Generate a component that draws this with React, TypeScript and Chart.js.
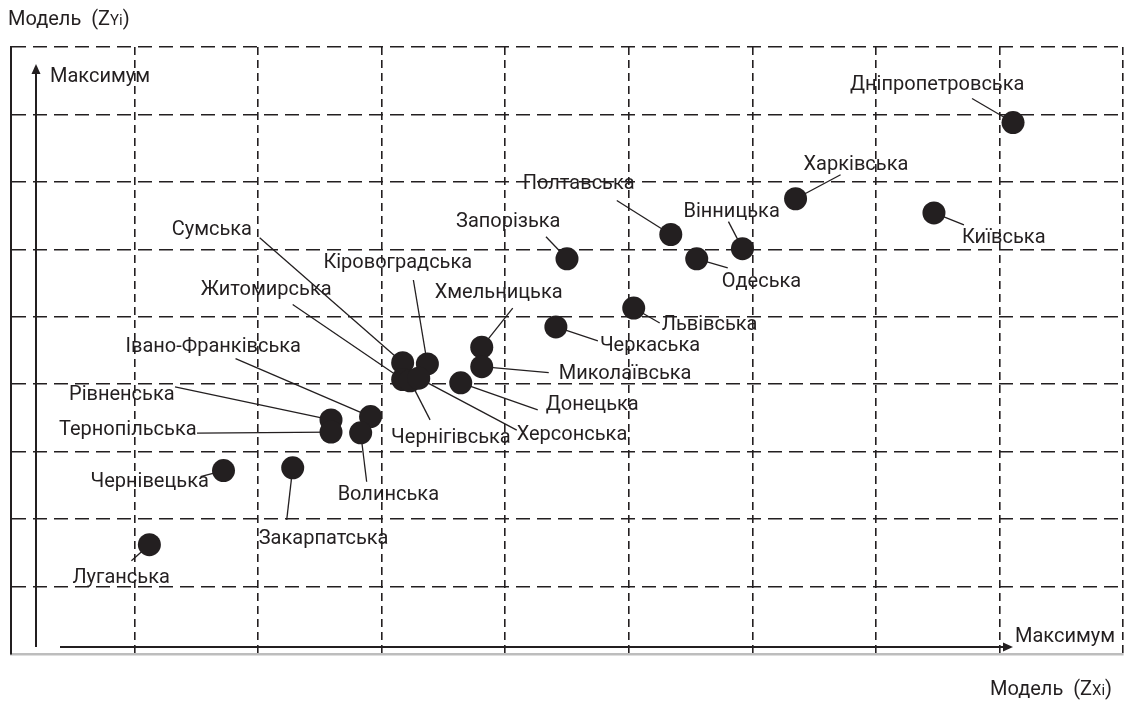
import React, { useEffect, useRef } from "react";
import { Chart, registerables } from "chart.js";

Chart.register(...registerables);

// Regions (categories)
const regions = [
  "Дніпропетровська",
  "Харківська",
  "Київська",
  "Полтавська",
  "Вінницька",
  "Одеська",
  "Запорізька",
  "Львівська",
  "Черкаська",
  "Хмельницька",
  "Миколаївська",
  "Сумська",
  "Кіровоградська",
  "Житомирська",
  "Чернігівська",
  "Херсонська",
  "Донецька",
  "Івано-Франківська",
  "Рівненська",
  "Тернопільська",
  "Волинська",
  "Чернівецька",
  "Закарпатська",
  "Луганська",
];

// Model values ZXi (horizontal) and ZYi (vertical), in grid units
const zx = [8.11, 6.35, 7.47, 5.34, 5.92, 5.55, 4.5, 5.04, 4.41, 3.81, 3.81, 3.17, 3.37, 3.17, 3.23, 3.3, 3.64, 2.91, 2.59, 2.59, 2.83, 1.72, 2.28, 1.12];
const zy = [7.88, 6.75, 6.54, 6.22, 6.01, 5.86, 5.86, 5.13, 4.85, 4.55, 4.26, 4.32, 4.3, 4.07, 4.05, 4.09, 4.02, 3.52, 3.47, 3.29, 3.28, 2.72, 2.76, 1.62];

// Axis texts
const yTitle = ["Модель  (Z", "Yi", ")"];
const xTitle = ["Модель  (Z", "Xi", ")"];
const axisMax = "Максимум";
const gridMin = 0;
const gridMax = 9;

// Annotation layout (pixel offsets from the point): leader end, label left/middle
const leaderEnd: [number, number][] = [
  [-41, -24], [45, -24], [30, 12], [-54, -34], [-14, -27], [31, 9], [-21, -22], [26, 15],
  [42, 14], [31, -39], [67, 6], [-143, -125], [-14, -84], [-110, -75], [20, 39], [98, 52],
  [77, 27], [-135, -58], [-156, -33], [-134, 1], [6, 49], [-23, 6], [-6, 52], [-18, 16],
];
const labelPos: [number, number][] = [
  [-163, -38], [8, -34], [28, 25], [-148, -50], [-59, -37], [25, 23], [-111, -37], [28, 17],
  [44, 19], [-47, -54], [77, 7], [-231, -133], [-104, -101], [-202, -90], [-19, 57], [98, 57],
  [85, 22], [-245, -70], [-262, -25], [-272, -2], [-23, 62], [-133, 11], [-34, 71], [-77, 33],
];

const INK = "#231f20";
const FAMILY = "Roboto, 'Noto Sans', sans-serif";
const FONT = `20px ${FAMILY}`;
const SMALL = `15px ${FAMILY}`;

function drawTitle(ctx: CanvasRenderingContext2D, parts: string[], x: number, y: number) {
  let cx = x;
  parts.forEach((p, i) => {
    ctx.font = i === 1 ? SMALL : FONT;
    ctx.fillText(p, cx, i === 1 ? y + 1 : y);
    cx += ctx.measureText(p).width;
  });
}

export default function App() {
  const ref = useRef<HTMLCanvasElement>(null);

  useEffect(() => {
    document.body.style.margin = "0";
    const canvas = ref.current;
    if (!canvas) return;

    const annot = {
      id: "annot",
      beforeDatasetsDraw(chart: any) {
        const { ctx, chartArea, scales } = chart;
        const xs = scales.x;
        const ys = scales.y;
        ctx.save();
        ctx.strokeStyle = INK;
        ctx.lineWidth = 1.3;
        regions.forEach((_, i) => {
          const px = xs.getPixelForValue(zx[i]);
          const py = ys.getPixelForValue(zy[i]);
          ctx.beginPath();
          ctx.moveTo(px, py);
          ctx.lineTo(px + leaderEnd[i][0], py + leaderEnd[i][1]);
          ctx.stroke();
        });
        // axis arrows
        const ax = chartArea.left + 25;
        const ay = chartArea.bottom - 7;
        ctx.lineWidth = 2;
        ctx.fillStyle = INK;
        ctx.beginPath();
        ctx.moveTo(ax, ay);
        ctx.lineTo(ax, chartArea.top + 24);
        ctx.stroke();
        ctx.beginPath();
        ctx.moveTo(ax, chartArea.top + 17);
        ctx.lineTo(ax - 4.5, chartArea.top + 27);
        ctx.lineTo(ax + 4.5, chartArea.top + 27);
        ctx.closePath();
        ctx.fill();
        const tipX = chartArea.left + 1002;
        ctx.beginPath();
        ctx.moveTo(chartArea.left + 49, ay);
        ctx.lineTo(tipX - 6, ay);
        ctx.stroke();
        ctx.beginPath();
        ctx.moveTo(tipX, ay);
        ctx.lineTo(tipX - 10, ay - 4.5);
        ctx.lineTo(tipX - 10, ay + 4.5);
        ctx.closePath();
        ctx.fill();
        ctx.restore();
      },
      afterDatasetsDraw(chart: any) {
        const { ctx, scales } = chart;
        const xs = scales.x;
        const ys = scales.y;
        ctx.save();
        ctx.fillStyle = INK;
        ctx.textBaseline = "middle";
        ctx.textAlign = "left";
        ctx.font = FONT;
        regions.forEach((name, i) => {
          const px = xs.getPixelForValue(zx[i]);
          const py = ys.getPixelForValue(zy[i]);
          ctx.fillText(name, px + labelPos[i][0], py + labelPos[i][1]);
        });
        ctx.font = FONT;
        ctx.fillText(axisMax, 50, 77);
        ctx.fillText(axisMax, 1015, 637);
        drawTitle(ctx, yTitle, 8, 20);
        drawTitle(ctx, xTitle, 990, 690);
        ctx.restore();
      },
    };

    const hideZero = (c: any) => (c.tick && c.tick.value === gridMin ? "rgba(0,0,0,0)" : INK);

    const chart = new Chart(canvas, {
      type: "scatter",
      data: {
        datasets: [
          {
            label: "Регіони",
            data: zx.map((v, i) => ({ x: v, y: zy[i] })),
            pointRadius: 11.5,
            pointHoverRadius: 11.5,
            backgroundColor: INK,
            borderWidth: 0,
          },
        ],
      },
      options: {
        animation: false,
        responsive: false,
        maintainAspectRatio: false,
        events: [],
        layout: { autoPadding: false, padding: { left: 11, top: 47, right: 4, bottom: 47 } },
        plugins: { legend: { display: false }, tooltip: { enabled: false } },
        scales: {
          x: {
            type: "linear",
            min: gridMin,
            max: gridMax,
            ticks: { display: false, stepSize: 1 },
            grid: { drawTicks: false, color: hideZero, lineWidth: 1.6 },
            border: { display: true, color: "#bdbdbd", width: 2.5, dash: [8, 5] },
          },
          y: {
            type: "linear",
            min: gridMin,
            max: gridMax,
            ticks: { display: false, stepSize: 1 },
            grid: { drawTicks: false, color: hideZero, lineWidth: 1.6 },
            border: { display: true, color: INK, width: 2, dash: [14, 7] },
          },
        },
      } as any,
      plugins: [annot],
    });
    return () => chart.destroy();
  }, []);

  return (
    <div style={{ position: "relative", width: 1127, height: 701 }}>
      <canvas ref={ref} width={1127} height={701} style={{ display: "block" }} />
    </div>
  );
}
